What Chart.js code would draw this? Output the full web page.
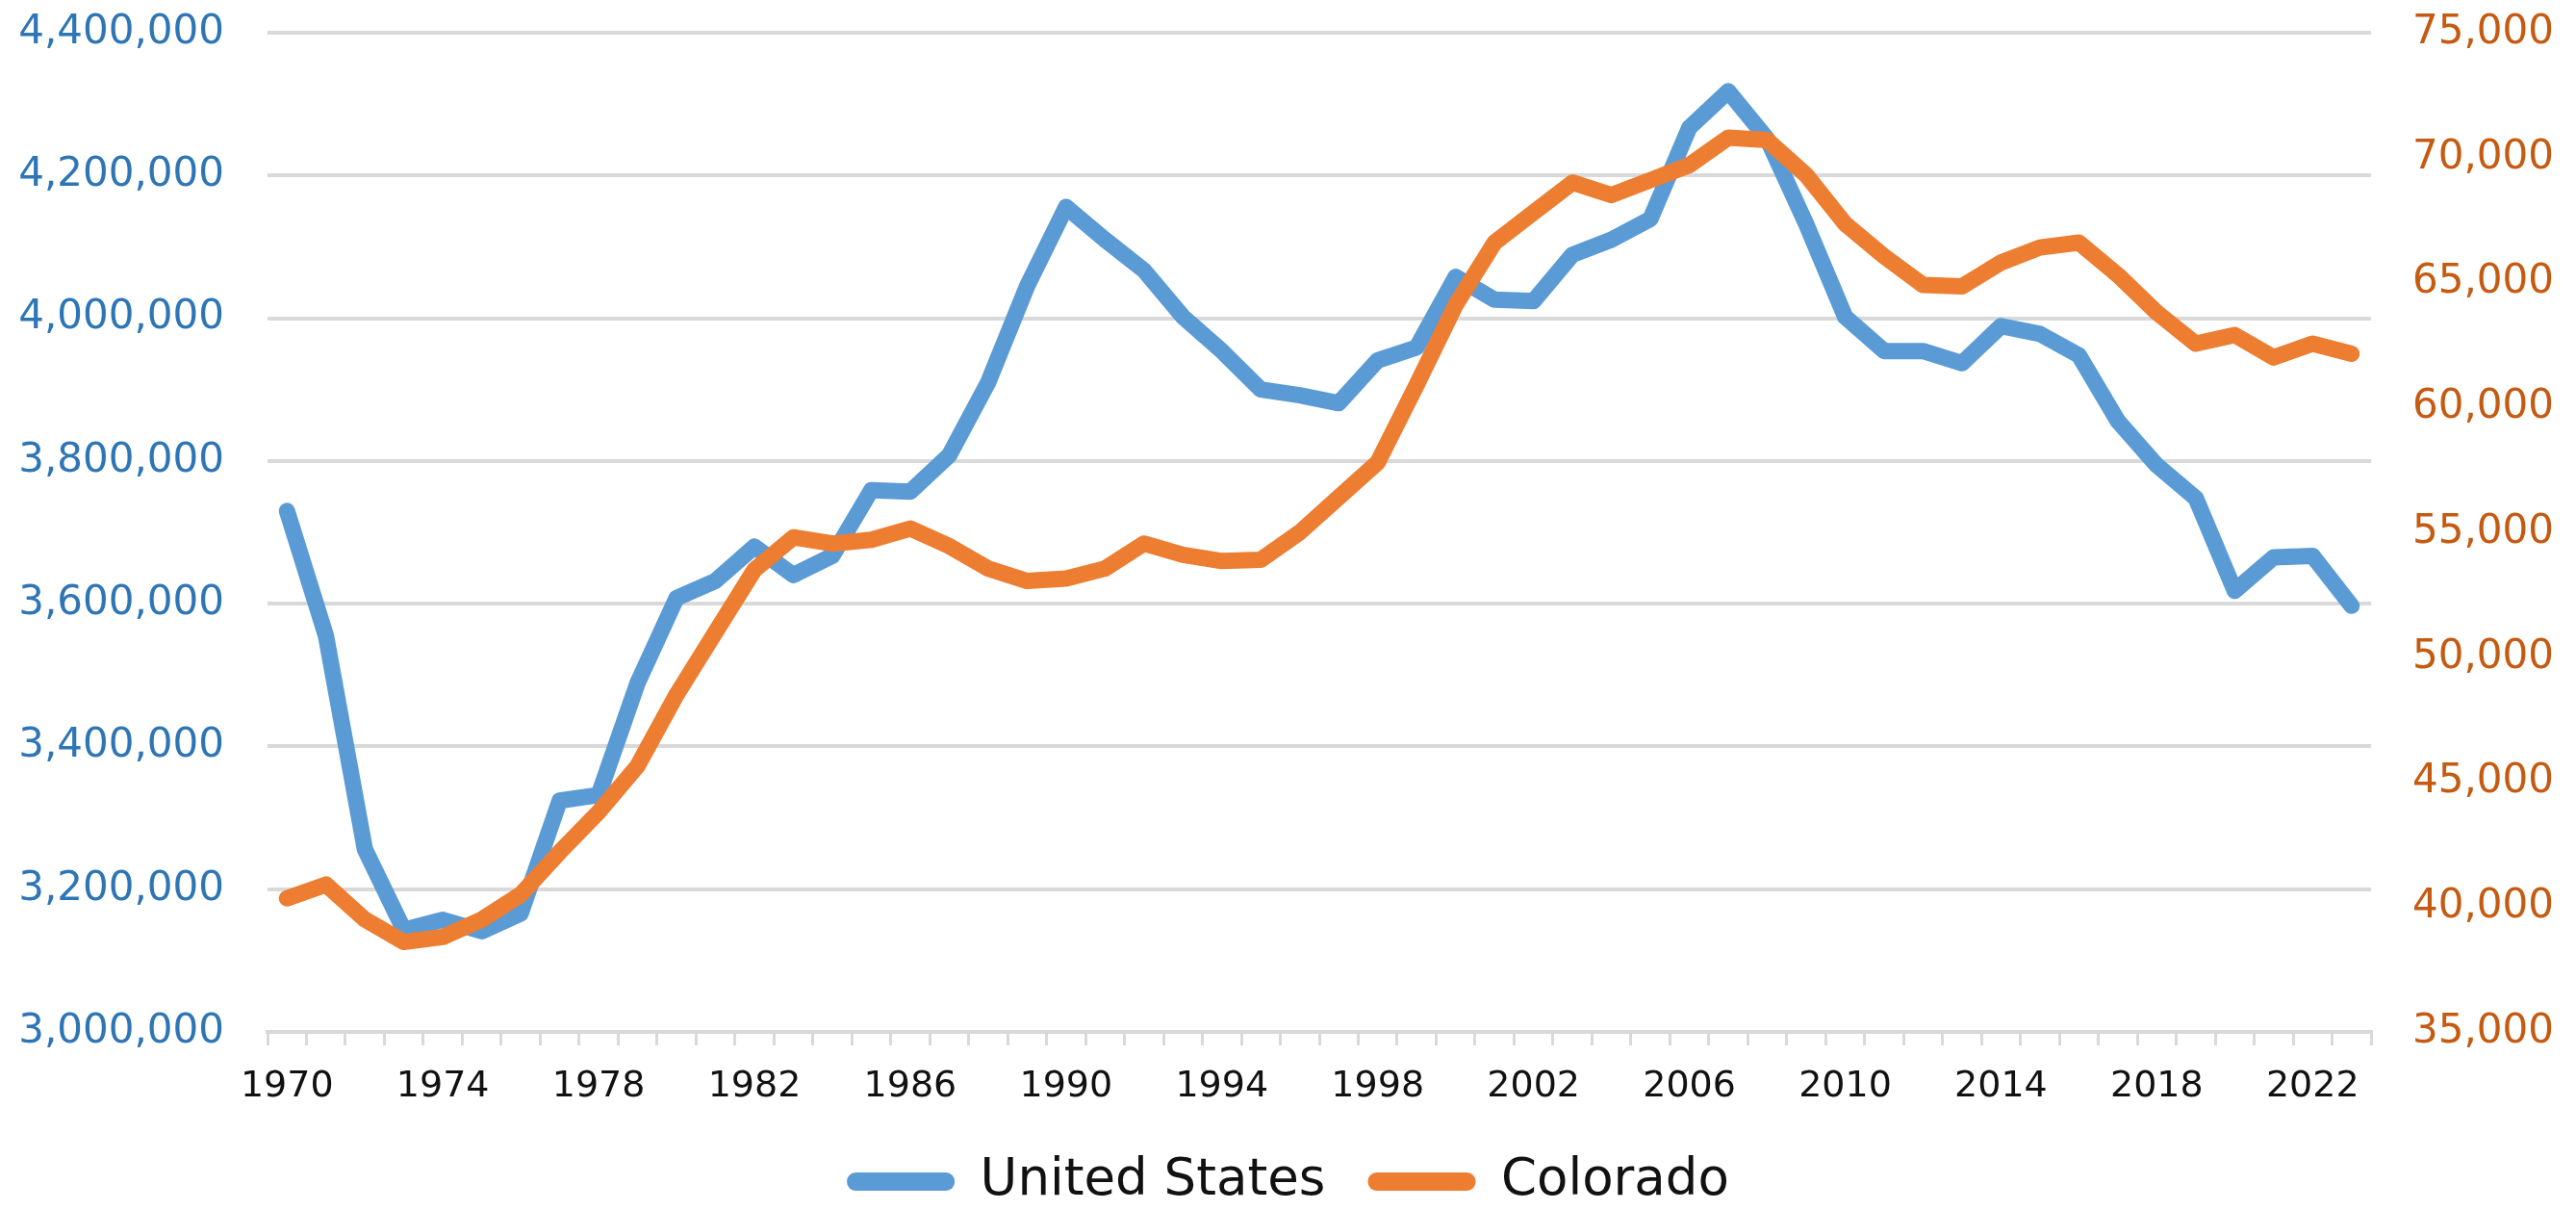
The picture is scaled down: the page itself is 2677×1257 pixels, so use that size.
<!DOCTYPE html>
<html><head><meta charset="utf-8">
<script src="https://cdn.jsdelivr.net/npm/chart.js@4.4.1/dist/chart.umd.min.js"></script>
<style>html,body{margin:0;padding:0;background:#fff;overflow:hidden;}#wrap{width:2677px;height:1257px;overflow:hidden;}</style>
</head><body><div id="wrap"><canvas id="c" width="2677" height="1264"></canvas></div>
<script>
const years = ['1970','1971','1972','1973','1974','1975','1976','1977','1978','1979',
  '1980','1981','1982','1983','1984','1985','1986','1987','1988','1989',
  '1990','1991','1992','1993','1994','1995','1996','1997','1998','1999',
  '2000','2001','2002','2003','2004','2005','2006','2007','2008','2009',
  '2010','2011','2012','2013','2014','2015','2016','2017','2018','2019',
  '2020','2021','2022','2023'];
const unitedStates = [3730000, 3555000, 3256000, 3143000, 3157000, 3141000, 3166000, 3324000, 3332000, 3489000,
  3608000, 3632000, 3680000, 3640000, 3667000, 3759000, 3757000, 3808000, 3910000, 4045000,
  4156000, 4110000, 4067000, 4002000, 3954000, 3900000, 3892000, 3881000, 3941000, 3959000,
  4058000, 4026000, 4024000, 4089000, 4110000, 4139000, 4267000, 4318000, 4251000, 4132000,
  4002000, 3954000, 3954000, 3937000, 3989000, 3978000, 3948000, 3856000, 3794000, 3748000,
  3618000, 3665000, 3667000, 3597000];
const colorado = [40350, 40900, 39500, 38600, 38800, 39500, 40500, 42200, 43800, 45650,
  48500, 51000, 53500, 54800, 54550, 54700, 55150, 54450, 53550, 53050,
  53150, 53550, 54550, 54100, 53850, 53900, 55000, 56400, 57800, 60900,
  64100, 66600, 67800, 69000, 68500, 69100, 69700, 70800, 70700, 69300,
  67350, 66050, 64900, 64850, 65800, 66400, 66600, 65300, 63800, 62550,
  62900, 62000, 62550, 62150];
const leftTicks = {min: 3000000, max: 4400000, step: 200000};
const rightTicks = {min: 35000, max: 75000, step: 5000};

const FONT = "'DejaVu Sans', sans-serif";
const fmt = v => Number(v).toLocaleString('en-US');
const baseLabels = Chart.defaults.plugins.legend.labels.generateLabels;

new Chart(document.getElementById('c'), {
  type: 'line',
  data: {
    labels: years,
    datasets: [
      {label: 'United States', data: unitedStates, yAxisID: 'yL', borderColor: '#5B9BD5', backgroundColor: '#5B9BD5',
       borderWidth: 17, pointRadius: 0, tension: 0, borderJoinStyle: 'round', borderCapStyle: 'round', order: 1},
      {label: 'Colorado', data: colorado, yAxisID: 'yR', borderColor: '#ED7D31', backgroundColor: '#ED7D31',
       borderWidth: 17, pointRadius: 0, tension: 0, borderJoinStyle: 'round', borderCapStyle: 'round', order: 0}
    ]
  },
  options: {
    responsive: false,
    animation: false,
    events: [],
    layout: {padding: {top: 34, left: 0, right: 0, bottom: 0}},
    plugins: {
      tooltip: {enabled: false},
      legend: {
        position: 'bottom',
        labels: {
          font: {family: FONT, size: 53},
          color: '#111111',
          boxWidth: 112,
          boxHeight: 19,
          padding: 44,
          useBorderRadius: true,
          borderRadius: 9,
          generateLabels: chart => baseLabels(chart).map(l => Object.assign(l, {lineWidth: 0, strokeStyle: 'rgba(0,0,0,0)'})),
          sort: (a, b) => a.datasetIndex - b.datasetIndex
        }
      }
    },
    scales: {
      x: {
        offset: true,
        grid: {display: true, drawOnChartArea: false, offset: true, color: '#D9D9D9', lineWidth: 3, tickLength: 14, tickColor: '#D9D9D9'},
        border: {display: true, color: '#D9D9D9', width: 4},
        ticks: {
          autoSkip: false, maxRotation: 0, minRotation: 0, padding: 20,
          color: '#111111', font: {family: FONT, size: 38},
          callback: function(v, i) { return i % 4 === 0 ? this.getLabelForValue(v) : ''; }
        },
        afterFit: s => { s.height = 85; }
      },
      yL: {
        position: 'left',
        min: leftTicks.min, max: leftTicks.max,
        ticks: {stepSize: leftTicks.step, color: '#2E75B6', font: {family: FONT, size: 42}, padding: 45, callback: v => fmt(v)},
        grid: {color: '#D9D9D9', lineWidth: 4, drawTicks: false},
        border: {display: false},
        afterFit: s => { s.width = 278; s.paddingTop = 0; s.paddingBottom = 0; }
      },
      yR: {
        position: 'right',
        min: rightTicks.min, max: rightTicks.max,
        ticks: {stepSize: rightTicks.step, color: '#C55A11', font: {family: FONT, size: 42}, padding: 43, callback: v => fmt(v)},
        grid: {drawOnChartArea: false, drawTicks: false},
        border: {display: false},
        afterFit: s => { s.width = 213; s.paddingTop = 0; s.paddingBottom = 0; }
      }
    }
  }
});
</script>
</body></html>
